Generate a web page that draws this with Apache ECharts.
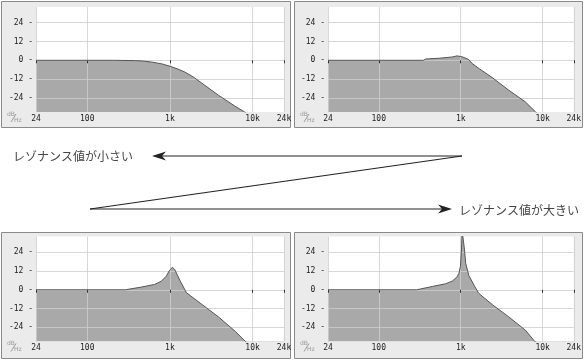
<!DOCTYPE html>
<html><head><meta charset="utf-8">
<script src="https://cdn.jsdelivr.net/npm/echarts@6/dist/echarts.min.js"></script>
<style>html,body{margin:0;padding:0;background:#fff}#c{width:584px;height:360px}</style>
</head><body><div id="c"></div>
<script>
// ---- data ----
const xTicks = [24, 100, 1000, 10000, 24000];
const xTickLabels = ['24', '100', '1k', '10k', '24k'];
const yTicks = [-24, -12, 0, 12, 24];
const yTickLabels = ['-24', '-12', '0', '12', '24'];
const yMin = -33, yMax = 34;

// panel 1: resonance off
const freq1 = [24, 200, 372, 450, 600, 800, 1000, 1250, 1514, 1900, 2420, 3865, 6170, 8020, 12000, 24000];
const db1   = [0, 0, -0.2, -0.4, -1.1, -2.3, -3.8, -5.6, -7.5, -10.5, -14.5, -22.3, -29.4, -33, -40, -52];
// panel 2: small resonance
const freq2 = [24, 350, 372, 542, 787, 900, 1000, 1060, 1259, 1380, 1700, 2420, 3865, 6170, 8200, 12000, 24000];
const db2   = [0, 0, 0.8, 1.3, 2.1, 2.8, 2.4, 2.1, 0.4, -2.1, -5.5, -11, -19.1, -26.6, -33, -40, -52];
// panel 3: medium resonance
const freq3 = [24, 290, 294, 449, 652, 787, 905, 993, 1072, 1143, 1315, 1585, 2420, 3865, 6170, 8200, 12000, 24000];
const db3   = [0, 0, 0.6, 1.7, 3.4, 5.5, 8.7, 12.6, 14.3, 13, 6.2, -1.9, -9.2, -17.3, -26.5, -33, -40, -52];
// panel 4: large resonance
const freq4 = [24, 290, 294, 449, 652, 787, 905, 950, 993, 1020, 1040, 1090, 1110, 1150, 1259, 1490, 1664, 2420, 3865, 6170, 8020, 12000, 24000];
const db4   = [0, 0, 0.6, 2.1, 3.8, 5.5, 8.3, 10.5, 15, 24, 38, 38, 26, 17, 9, 1.9, -2.3, -9.4, -17.3, -25.8, -33, -40, -52];

const topLabel = 'レゾナンス値が小さい';
const bottomLabel = 'レゾナンス値が大きい';
const unitTop = 'dB', unitBottom = 'Hz';

// ---- layout ----
const panels = [
  {px: 1,   py: 1,   pw: 290, ph: 127, gl: 36,  gt: 7},
  {px: 294, py: 1,   pw: 289, ph: 127, gl: 328, gt: 7},
  {px: 1,   py: 232, pw: 290, ph: 127, gl: 36,  gt: 236.5},
  {px: 294, py: 232, pw: 289, ph: 127, gl: 328, gt: 236.5}
];
const GW = 248, GH = 105;
const freqs = [freq1, freq2, freq3, freq4];
const dbs = [db1, db2, db3, db4];

const mono = 'DejaVu Sans Mono';
const gridLine = {color: 'rgba(205,205,205,0.8)', width: 1};

function xLabel(v) {
  for (let i = 0; i < xTicks.length; i++) {
    if (Math.abs(v - xTicks[i]) / xTicks[i] < 0.01) return xTickLabels[i];
  }
  return '';
}
function yLabel(v) {
  for (let i = 0; i < yTicks.length; i++) {
    if (Math.abs(v - yTicks[i]) < 0.01) return yTickLabels[i] + ' -';
  }
  return '';
}

const grid = [], xAxis = [], yAxis = [], series = [], graphic = [];
panels.forEach((p, i) => {
  graphic.push({type: 'rect', z: -5, shape: {x: p.px + 0.5, y: p.py + 0.5, width: p.pw - 1, height: p.ph - 1},
    style: {fill: '#ebebeb', stroke: '#8a8a8a', lineWidth: 1}});
  graphic.push({type: 'text', z: 5, x: p.px + 6, y: p.gt + GH - 1,
    style: {text: unitTop, fontSize: 6, fill: '#9a9a9a', fontFamily: 'DejaVu Sans'}});
  graphic.push({type: 'line', z: 5, shape: {x1: p.px + 10, y1: p.gt + GH + 10, x2: p.px + 15, y2: p.gt + GH + 2},
    style: {stroke: '#9a9a9a', lineWidth: 1}});
  graphic.push({type: 'text', z: 5, x: p.px + 13, y: p.gt + GH + 5,
    style: {text: unitBottom, fontSize: 6, fill: '#9a9a9a', fontFamily: 'DejaVu Sans'}});

  grid.push({left: p.gl, top: p.gt, width: GW, height: GH, show: true, z: 0,
    backgroundColor: '#ffffff', borderWidth: 0});
  xAxis.push({type: 'log', logBase: 10, gridIndex: i, min: 24, max: 24000, z: 10,
    axisLine: {show: false},
    axisTick: {show: true, length: 3, customValues: xTicks, lineStyle: {color: '#333'}},
    axisLabel: {customValues: xTicks, formatter: xLabel, fontSize: 8, fontFamily: mono,
      color: '#222', margin: 2.5},
    splitLine: {show: true, lineStyle: gridLine}});
  yAxis.push({type: 'value', gridIndex: i, min: yMin, max: yMax, z: 10,
    axisLine: {show: false},
    axisTick: {show: false, customValues: yTicks},
    axisLabel: {customValues: yTicks, formatter: yLabel, fontSize: 8, fontFamily: mono,
      color: '#222', margin: 3},
    splitLine: {show: true, lineStyle: gridLine}});
  const pts = freqs[i].map((f, k) => [f, dbs[i][k]]);
  // filled response (under the grid lines)
  series.push({type: 'line', xAxisIndex: i, yAxisIndex: i, clip: true, symbol: 'none', z: 1,
    data: pts, lineStyle: {width: 0},
    areaStyle: {color: '#a9a9a9', opacity: 1, origin: 'start'},
    silent: true, animation: false});
  // response outline (above the grid lines)
  series.push({type: 'line', xAxisIndex: i, yAxisIndex: i, clip: true, symbol: 'none', z: 20,
    data: pts, lineStyle: {color: '#555', width: 1},
    silent: true, animation: false});
});

// middle arrows and captions
const ink = '#222';
graphic.push({type: 'text', x: 13, y: 156, style: {text: topLabel, fontSize: 12,
  fontFamily: 'Noto Sans CJK JP', fill: '#444', verticalAlign: 'middle'}});
graphic.push({type: 'text', x: 459, y: 210, style: {text: bottomLabel, fontSize: 12,
  fontFamily: 'Noto Sans CJK JP', fill: '#444', verticalAlign: 'middle'}});
graphic.push({type: 'line', shape: {x1: 462, y1: 156, x2: 160, y2: 156}, style: {stroke: ink, lineWidth: 1.2}});
graphic.push({type: 'polygon', shape: {points: [[152, 156], [166, 151.5], [162, 156], [166, 160.5]]}, style: {fill: ink}});
graphic.push({type: 'line', shape: {x1: 462, y1: 156, x2: 90, y2: 209}, style: {stroke: ink, lineWidth: 1.2}});
graphic.push({type: 'line', shape: {x1: 90, y1: 209, x2: 444, y2: 209}, style: {stroke: ink, lineWidth: 1.2}});
graphic.push({type: 'polygon', shape: {points: [[452, 209], [438, 204.5], [442, 209], [438, 213.5]]}, style: {fill: ink}});

const chart = echarts.init(document.getElementById('c'), null, {renderer: 'canvas'});
chart.setOption({animation: false, grid, xAxis, yAxis, series, graphic});
</script>
</body></html>
